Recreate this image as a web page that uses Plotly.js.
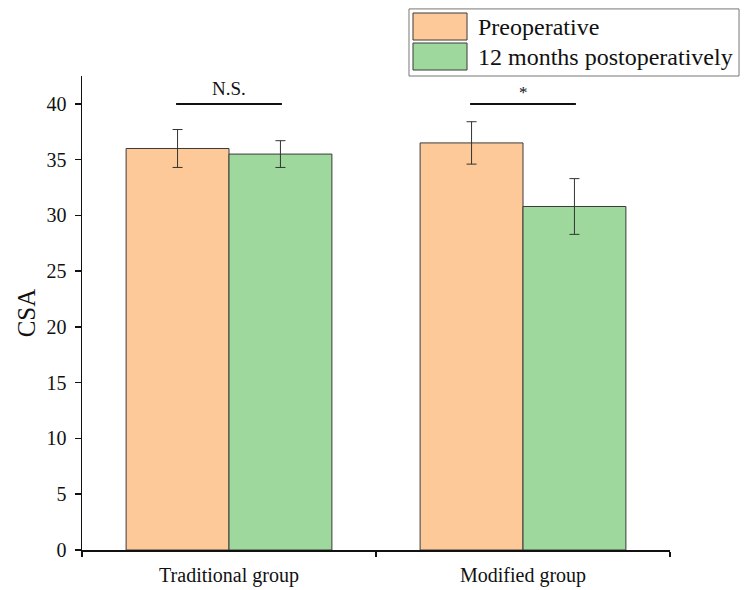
<!DOCTYPE html>
<html>
<head>
<meta charset="utf-8">
<script src="https://cdn.plot.ly/plotly-3.0.1.min.js"></script>
<style>html,body{margin:0;padding:0;background:#fff;}#chart{width:744px;height:590px;}</style>
</head>
<body>
<div id="chart"></div>
<script>
const categories = ["Traditional group", "Modified group"];
const seriesNames = ["Preoperative", "12 months postoperatively"];
const preValues = [36.0, 36.5];
const preErrors = [1.7, 1.9];
const postValues = [35.5, 30.8];
const postErrors = [1.2, 2.5];
const sigLabels = ["N.S.", "*"];
const sigLevel = 40;
const colors = ["#FDC998", "#9ED89C"];

const font = "Liberation Serif, Times New Roman, serif";

const traces = [
  {type: "bar", name: seriesNames[0], x: categories, y: preValues,
   marker: {color: colors[0], line: {color: "#3a3a3a", width: 1}},
   error_y: {type: "data", array: preErrors, visible: true, color: "#333", thickness: 1, width: 5},
   showlegend: false},
  {type: "bar", name: seriesNames[1], x: categories, y: postValues,
   marker: {color: colors[1], line: {color: "#3a3a3a", width: 1}},
   error_y: {type: "data", array: postErrors, visible: true, color: "#333", thickness: 1, width: 5},
   showlegend: false}
];

const shapes = [];
const annotations = [];
categories.forEach((c, i) => {
  shapes.push({type: "line", xref: "x", yref: "y", x0: i - 0.18, x1: i + 0.18, y0: sigLevel, y1: sigLevel,
               line: {color: "#111", width: 2}});
  annotations.push({xref: "x", yref: "y", x: i, y: sigLevel, text: sigLabels[i], showarrow: false,
                    yanchor: "bottom", yshift: sigLabels[i] === "*" ? 0 : 3,
                    font: {family: font, size: sigLabels[i] === "*" ? 17 : 19, color: "#111"}});
});

// custom legend
const lgX0 = 0.5561, lgX1 = 1.1174, lgY1 = 1.1415;
shapes.push({type: "rect", xref: "paper", yref: "paper", x0: lgX0, x1: lgX1, y0: 1.0, y1: lgY1,
             line: {color: "#777", width: 1}, fillcolor: "rgba(0,0,0,0)"});
const rowsTop = [1.1329, 1.0696];
seriesNames.forEach((n, i) => {
  const yTop = rowsTop[i], yBot = yTop - 0.057;
  shapes.push({type: "rect", xref: "paper", yref: "paper", x0: 0.5629, x1: 0.6548, y0: yBot, y1: yTop,
               fillcolor: colors[i], line: {color: "#3a3a3a", width: 1}});
  annotations.push({xref: "paper", yref: "paper", x: 0.6701, y: (yTop + yBot) / 2, text: n, showarrow: false,
                    xanchor: "left", yanchor: "middle", font: {family: font, size: 24, color: "#111"}});
});

const layout = {
  width: 744, height: 590,
  margin: {l: 82, r: 74, t: 76, b: 40},
  paper_bgcolor: "#fff", plot_bgcolor: "#fff",
  barmode: "group", bargap: 0.3, bargroupgap: 0,
  font: {family: font, color: "#111"},
  xaxis: {type: "category", range: [-0.5, 1.5], showline: true, linecolor: "#111", linewidth: 1.5,
          ticks: "outside", tickson: "boundaries", ticklen: 5, tickcolor: "#111", tickwidth: 1.5,
          ticklabelstandoff: 6,
          showgrid: false, zeroline: false, tickfont: {family: font, size: 20, color: "#111"}},
  yaxis: {range: [0, 42.5], showline: true, linecolor: "#111", linewidth: 1.5,
          ticks: "outside", ticklen: 6, tickcolor: "#111", tickwidth: 1.5, dtick: 5,
          ticklabelstandoff: 4,
          showgrid: false, zeroline: false, tickfont: {family: font, size: 20, color: "#111"},
          title: {text: "CSA", font: {family: font, size: 25, color: "#111"}, standoff: 4}},
  shapes: shapes,
  annotations: annotations,
  showlegend: false
};

Plotly.newPlot("chart", traces, layout, {displayModeBar: false, staticPlot: true});
</script>
</body>
</html>
